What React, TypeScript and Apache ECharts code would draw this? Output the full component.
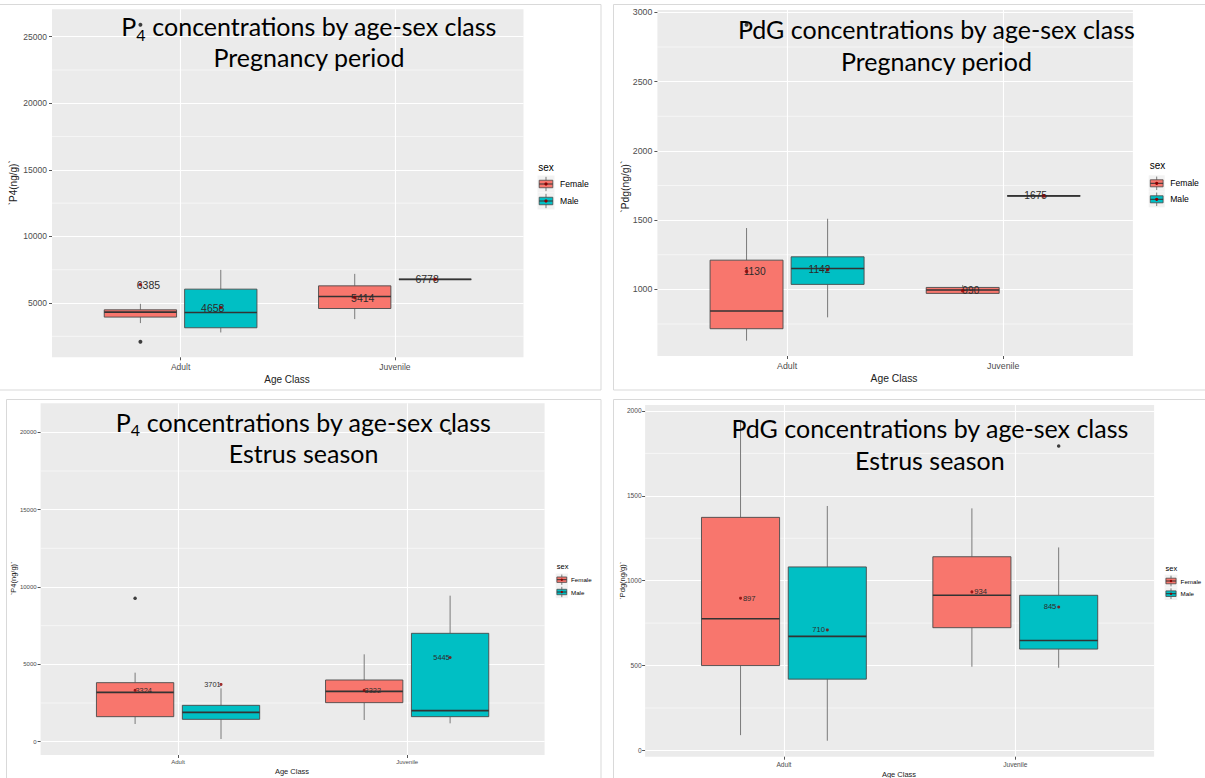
import { useEffect, useRef } from "react";
import * as echarts from "echarts";

// ---------- data ----------
const categories = ["Adult", "Juvenile"];
const sexes = ["Female", "Male"];

// P4 – pregnancy period: [lower whisker, Q1, median, Q3, upper whisker] per age class
const p4PregFemale = [[3493, 3943, 4318, 4490, 4940], [3793, 4588, 5487, 6289, 7189]];
const p4PregMale = [[2789, 3141, 4288, 6042, 7489], [6778, 6778, 6778, 6778, 6778]];
const p4PregFemaleMean = [6385, 5414];
const p4PregMaleMean = [4658, 6778];
const p4PregFemaleOutliers = [[0, 2091], [0, 25900]]; // [age-class index, value]
const p4PregMaleOutliers: number[][] = [];
const p4PregTicks = [5000, 10000, 15000, 20000, 25000];
const p4PregMinorTicks = [2500, 7500, 12500, 17500, 22500];

// PdG – pregnancy period
const pdgPregFemale = [[630, 716, 844, 1211, 1443], [971, 971, 995, 1014, 1031]];
const pdgPregMale = [[798, 1036, 1151, 1235, 1510], [1675, 1675, 1675, 1675, 1675]];
const pdgPregFemaleMean = [1130, 990];
const pdgPregMaleMean = [1142, 1675];
const pdgPregFemaleOutliers = [[0, 2910]];
const pdgPregMaleOutliers: number[][] = [];
const pdgPregTicks = [1000, 1500, 2000, 2500, 3000];
const pdgPregMinorTicks = [750, 1250, 1750, 2250, 2750];

// P4 – estrus season
const p4EstrFemale = [[1142, 1616, 3189, 3814, 4461], [1401, 2521, 3254, 3987, 5646]];
const p4EstrMale = [[172, 1444, 1896, 2349, 3448], [1185, 1616, 2004, 7004, 9439]];
const p4EstrFemaleMean = [3324, 3322];
const p4EstrMaleMean = [3701, 5445];
const p4EstrFemaleOutliers = [[0, 9267]];
const p4EstrMaleOutliers = [[1, 19935]];
const p4EstrTicks = [0, 5000, 10000, 15000, 20000];
const p4EstrMinorTicks = [2500, 7500, 12500, 17500];

// PdG – estrus season
const pdgEstrFemale = [[90, 500, 776, 1373, 1941], [493, 723, 914, 1141, 1426]];
const pdgEstrMale = [[57, 420, 672, 1081, 1440], [487, 597, 648, 914, 1196]];
const pdgEstrFemaleMean = [897, 934];
const pdgEstrMaleMean = [710, 845];
const pdgEstrFemaleOutliers: number[][] = [];
const pdgEstrMaleOutliers = [[1, 1794]];
const pdgEstrTicks = [0, 500, 1000, 1500, 2000];
const pdgEstrMinorTicks = [250, 750, 1250, 1750];

// ---------- styles / layout ----------
const FONT = "Liberation Sans";
const TITLE_FONT = "Lato";
const TITLE_SIZE = 25;
const SEX_COLORS = ["#F8766D", "#00BFC4"];
const WHISKER = "#7a7a7a";
const BOX_EDGE = "#4a4a4a";
const MEDIAN = "#333333";
const MEAN_COLOR = "#8B0000";
const X_MIN = 0.4;
const X_MAX = 2.6;
const BOX_WIDTH = 0.3375;
const DODGE = [-0.1875, 0.1875];
const LABEL_DODGE = [-0.15, 0.15];

const panels = [
  {
    female: p4PregFemale, male: p4PregMale, femaleMean: p4PregFemaleMean, maleMean: p4PregMaleMean,
    femaleOut: p4PregFemaleOutliers, maleOut: p4PregMaleOutliers, ticks: p4PregTicks, minor: p4PregMinorTicks,
    yName: "`P4(ng/g)`", sub: true, title1: "concentrations by age-sex class", title2: "Pregnancy period",
    grid: { left: 52, top: 9.3, width: 471.5, height: 348 }, yMin: 924, yMax: 27057,
    tickFont: 8.5, yMargin: 5, xMargin: 5, meanFont: 10.5, axisTitleFont: 10,
    xTitle: [287, 379.5], yTitle: [13.3, 182.8],
    title: { cx: 309, y1: 26, y2: 57.3 },
    legend: { titleX: 538.3, titleY: 167, titleSize: 10, keyX: 546, keyY: [184, 201], keySize: 17, textX: 560, textSize: 8.6 },
  },
  {
    female: pdgPregFemale, male: pdgPregMale, femaleMean: pdgPregFemaleMean, maleMean: pdgPregMaleMean,
    femaleOut: pdgPregFemaleOutliers, maleOut: pdgPregMaleOutliers, ticks: pdgPregTicks, minor: pdgPregMinorTicks,
    yName: "`Pdg(ng/g)`", sub: false, title1: "PdG concentrations by age-sex class", title2: "Pregnancy period",
    grid: { left: 657.4, top: 10, width: 475.5, height: 346 }, yMin: 519, yMax: 3017,
    tickFont: 8.8, yMargin: 5, xMargin: 5.5, meanFont: 10.2, axisTitleFont: 10.3,
    xTitle: [894, 378], yTitle: [625, 186.7],
    title: { cx: 936.4, y1: 29.3, y2: 60.7 },
    legend: { titleX: 1149.8, titleY: 165.7, titleSize: 10, keyX: 1156.7, keyY: [183.3, 199.3], keySize: 16, textX: 1170.2, textSize: 8.6 },
  },
  {
    female: p4EstrFemale, male: p4EstrMale, femaleMean: p4EstrFemaleMean, maleMean: p4EstrMaleMean,
    femaleOut: p4EstrFemaleOutliers, maleOut: p4EstrMaleOutliers, ticks: p4EstrTicks, minor: p4EstrMinorTicks,
    yName: "`P4(ng/g)`", sub: true, title1: "concentrations by age-sex class", title2: "Estrus season",
    grid: { left: 40.6, top: 403.3, width: 504, height: 351.7 }, yMin: -862, yMax: 21875,
    tickFont: 6, yMargin: 4, xMargin: 4, meanFont: 7.4, axisTitleFont: 7.5,
    xTitle: [292, 771.7], yTitle: [13.4, 578.3],
    title: { cx: 303.5, y1: 421.7, y2: 452.7 },
    legend: { titleX: 556.8, titleY: 566.7, titleSize: 7.5, keyX: 561.8, keyY: [579.7, 592], keySize: 12.3, textX: 571, textSize: 6.2 },
  },
  {
    female: pdgEstrFemale, male: pdgEstrMale, femaleMean: pdgEstrFemaleMean, maleMean: pdgEstrMaleMean,
    femaleOut: pdgEstrFemaleOutliers, maleOut: pdgEstrMaleOutliers, ticks: pdgEstrTicks, minor: pdgEstrMinorTicks,
    yName: "`Pdg(ng/g)`", sub: false, title1: "PdG concentrations by age-sex class", title2: "Estrus season",
    grid: { left: 645.1, top: 405, width: 509, height: 351.7 }, yMin: -37, yMax: 2035,
    tickFont: 6.6, yMargin: 3.5, xMargin: 4.5, meanFont: 7.6, axisTitleFont: 7.5,
    xTitle: [899, 774], yTitle: [622.4, 580.8],
    title: { cx: 929.9, y1: 428.3, y2: 460 },
    legend: { titleX: 1165.6, titleY: 568.3, titleSize: 7.5, keyX: 1171, keyY: [581, 593.7], keySize: 12.7, textX: 1180.6, textSize: 6.2 },
  },
];

const frames = [
  { x: -1, y: 4.5, w: 602, h: 385.5 },
  { x: 613.5, y: 4.5, w: 600, h: 385.5 },
  { x: 6.5, y: 399.5, w: 594.5, h: 400 },
  { x: 613.5, y: 399.5, w: 600, h: 400 },
];

function txt(x: number, y: number, text: string, size: number, extra: any = {}) {
  return {
    type: "text",
    x,
    y,
    z: 50,
    silent: true,
    style: {
      text,
      fontSize: size,
      fontFamily: FONT,
      fill: "#000",
      align: "center",
      verticalAlign: "middle",
      textAlign: "center",
      textVerticalAlign: "middle",
      ...extra,
    },
  };
}

function boxSeries(pi: number, boxes: number[][], s: number) {
  return {
    type: "custom",
    xAxisIndex: pi,
    yAxisIndex: pi,
    silent: true,
    z: 3,
    data: boxes.map((b, i) => [i + 1 + DODGE[s], ...b]),
    encode: { x: 0, y: [1, 2, 3, 4, 5] },
    renderItem: (_p: any, api: any) => {
      const x = api.value(0);
      const lo = api.coord([x, api.value(1)]);
      const q1 = api.coord([x, api.value(2)]);
      const md = api.coord([x, api.value(3)]);
      const q3 = api.coord([x, api.value(4)]);
      const hi = api.coord([x, api.value(5)]);
      const w = api.size([BOX_WIDTH, 0])[0];
      const left = lo[0] - w / 2;
      return {
        type: "group",
        children: [
          { type: "line", shape: { x1: hi[0], y1: hi[1], x2: q3[0], y2: q3[1] }, style: { stroke: WHISKER, lineWidth: 1 } },
          { type: "line", shape: { x1: q1[0], y1: q1[1], x2: lo[0], y2: lo[1] }, style: { stroke: WHISKER, lineWidth: 1 } },
          {
            type: "rect",
            shape: { x: left, y: q3[1], width: w, height: q1[1] - q3[1] },
            style: { fill: SEX_COLORS[s], stroke: BOX_EDGE, lineWidth: 0.9 },
          },
          { type: "line", shape: { x1: left, y1: md[1], x2: left + w, y2: md[1] }, style: { stroke: MEDIAN, lineWidth: 1.6 } },
        ],
      };
    },
  };
}

function buildOption() {
  const grid: any[] = [];
  const xAxis: any[] = [];
  const yAxis: any[] = [];
  const series: any[] = [];
  const graphic: any[] = [];

  frames.forEach((f) => {
    graphic.push({
      type: "rect",
      z: 0,
      silent: true,
      shape: { x: f.x, y: f.y, width: f.w, height: f.h },
      style: { fill: "none", stroke: "#D9D9D9", lineWidth: 1 },
    });
  });

  panels.forEach((P, pi) => {
    grid.push({ ...P.grid, show: true, backgroundColor: "#EBEBEB", borderWidth: 0, containLabel: false });
    xAxis.push({
      type: "value",
      gridIndex: pi,
      min: X_MIN,
      max: X_MAX,
      axisLine: { show: false, onZero: false },
      axisTick: { show: true, length: 3, lineStyle: { color: "#555", width: 1 }, customValues: [1, 2] },
      axisLabel: {
        customValues: [1, 2],
        formatter: (v: number) => categories[Math.round(v) - 1] ?? "",
        fontSize: P.tickFont,
        fontFamily: FONT,
        color: "#4D4D4D",
        margin: P.xMargin,
      },
      splitLine: { show: true, lineStyle: { color: "#FFFFFF", width: 1.1 } },
    });
    yAxis.push({
      type: "value",
      gridIndex: pi,
      min: P.yMin,
      max: P.yMax,
      axisLine: { show: false, onZero: false },
      axisTick: { show: true, length: 3, lineStyle: { color: "#555", width: 1 }, customValues: P.ticks },
      axisLabel: {
        customValues: P.ticks,
        formatter: (v: number) => String(v),
        fontSize: P.tickFont,
        fontFamily: FONT,
        color: "#4D4D4D",
        margin: P.yMargin,
      },
      splitLine: { show: true, lineStyle: { color: "#FFFFFF", width: 1.1 } },
    });

    // minor gridlines
    series.push({
      type: "custom",
      xAxisIndex: pi,
      yAxisIndex: pi,
      silent: true,
      z: 1,
      data: P.minor.map((v) => [X_MIN, v]),
      encode: { x: 0, y: 1 },
      renderItem: (_p: any, api: any) => {
        const a = api.coord([X_MIN, api.value(1)]);
        const b = api.coord([X_MAX, api.value(1)]);
        return { type: "line", shape: { x1: a[0], y1: a[1], x2: b[0], y2: b[1] }, style: { stroke: "#FFFFFF", lineWidth: 0.55 } };
      },
    });

    const boxesBySex = [P.female, P.male];
    const meansBySex = [P.femaleMean, P.maleMean];
    const outBySex = [P.femaleOut, P.maleOut];
    [0, 1].forEach((s) => {
      series.push(boxSeries(pi, boxesBySex[s], s));
      series.push({
        type: "scatter",
        xAxisIndex: pi,
        yAxisIndex: pi,
        silent: true,
        z: 4,
        symbol: "circle",
        symbolSize: pi < 2 ? 4 : 3.5,
        itemStyle: { color: "#111" },
        data: outBySex[s].map(([c, v]) => [c + 1 + DODGE[s], v]),
      });
      series.push({
        type: "custom",
        xAxisIndex: pi,
        yAxisIndex: pi,
        silent: true,
        z: 5,
        data: meansBySex[s].map((v, i) => [i + 1 + LABEL_DODGE[s], v]),
        encode: { x: 0, y: 1 },
        renderItem: (_p: any, api: any) => {
          const p = api.coord([api.value(0), api.value(1)]);
          return {
            type: "text",
            x: p[0],
            y: p[1],
            style: {
              text: String(api.value(1)),
              fontSize: P.meanFont,
              fontFamily: FONT,
              fill: "#2b2b2b",
              align: "center",
              verticalAlign: "middle",
              textAlign: "center",
              textVerticalAlign: "middle",
            },
          };
        },
      });
      series.push({
        type: "scatter",
        xAxisIndex: pi,
        yAxisIndex: pi,
        silent: true,
        z: 6,
        symbol: "circle",
        symbolSize: pi < 2 ? 3.5 : 3,
        itemStyle: { color: MEAN_COLOR },
        data: meansBySex[s].map((v, i) => [i + 1 + DODGE[s], v]),
      });
    });

    // axis titles
    graphic.push(txt(P.xTitle[0], P.xTitle[1], "Age Class", P.axisTitleFont, { fill: "#222" }));
    graphic.push({ ...txt(P.yTitle[0], P.yTitle[1], P.yName, P.axisTitleFont, { fill: "#222" }), rotation: Math.PI / 2 });

    // titles
    if (P.sub) {
      graphic.push({
        type: "text",
        x: P.title.cx,
        y: P.title.y1,
        z: 100,
        silent: true,
        style: {
          text: "{m|P}{s|4}{m| " + P.title1 + "}",
          fill: "#000",
          align: "center",
          verticalAlign: "middle",
          textAlign: "center",
          textVerticalAlign: "middle",
          rich: {
            m: { fontSize: TITLE_SIZE, fontFamily: TITLE_FONT, fill: "#000" },
            s: { fontSize: 16, fontFamily: TITLE_FONT, fill: "#000", padding: [16, 0, 0, 0] },
          },
        },
      });
    } else {
      graphic.push({ ...txt(P.title.cx, P.title.y1, P.title1, TITLE_SIZE, { fontFamily: TITLE_FONT }), z: 100 });
    }
    graphic.push({ ...txt(P.title.cx, P.title.y2, P.title2, TITLE_SIZE, { fontFamily: TITLE_FONT }), z: 100 });

    // legend
    const L = P.legend;
    graphic.push(txt(L.titleX, L.titleY, "sex", L.titleSize, { align: "left", textAlign: "left" }));
    sexes.forEach((name, s) => {
      const cx = L.keyX;
      const cy = L.keyY[s];
      const k = L.keySize;
      graphic.push({ type: "rect", z: 40, silent: true, shape: { x: cx - k / 2, y: cy - k / 2, width: k, height: k }, style: { fill: "#F2F2F2" } });
      graphic.push({ type: "line", z: 41, silent: true, shape: { x1: cx, y1: cy - k * 0.42, x2: cx, y2: cy + k * 0.42 }, style: { stroke: WHISKER, lineWidth: 1 } });
      graphic.push({
        type: "rect",
        z: 42,
        silent: true,
        shape: { x: cx - k * 0.4, y: cy - k * 0.22, width: k * 0.8, height: k * 0.44 },
        style: { fill: SEX_COLORS[s], stroke: BOX_EDGE, lineWidth: 0.8 },
      });
      graphic.push({ type: "line", z: 43, silent: true, shape: { x1: cx - k * 0.4, y1: cy, x2: cx + k * 0.4, y2: cy }, style: { stroke: MEDIAN, lineWidth: 1 } });
      graphic.push({ type: "circle", z: 44, silent: true, shape: { cx, cy, r: k > 14 ? 1.6 : 1.2 }, style: { fill: MEAN_COLOR } });
      graphic.push(txt(L.textX, cy, name, L.textSize, { align: "left", textAlign: "left" }));
    });
  });

  return {
    animation: false,
    backgroundColor: "#FFFFFF",
    grid,
    xAxis,
    yAxis,
    series,
    graphic: { elements: graphic },
  };
}

export default function App() {
  const ref = useRef<HTMLDivElement>(null);
  useEffect(() => {
    if (!ref.current) return;
    const chart = echarts.init(ref.current, undefined, { renderer: "svg" });
    chart.setOption(buildOption() as any);
    return () => chart.dispose();
  }, []);
  return <div ref={ref} style={{ position: "absolute", left: 0, top: 0, width: 1205, height: 778 }} />;
}
